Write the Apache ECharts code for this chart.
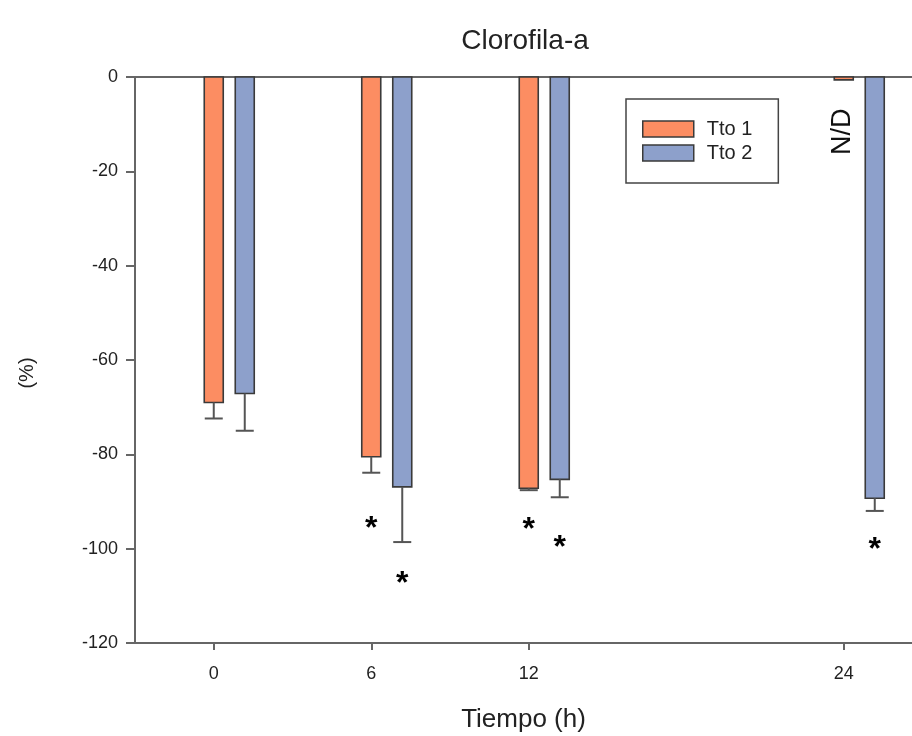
<!DOCTYPE html>
<html>
<head>
<meta charset="utf-8">
<script src="https://cdn.jsdelivr.net/npm/echarts@6/dist/echarts.min.js"></script>
<style>
  html, body { margin: 0; padding: 0; background: #fff; }
  #chart { width: 912px; height: 736px; }
</style>
</head>
<body>
<div id="chart"></div>
<script>
// tiempos (h) y valores
const tiempos = [0, 6, 12, 24];
const tickTiempos = [0, 6, 12, 24];
const tto1 = [-69.0, -80.5, -87.2, -0.6];
const tto1Err = [3.4, 3.4, 0.4, 0];
const tto1Star = [null, -94.1, -94.3, null];
const tto1Nota = ['', '', '', 'N/D'];
const tto2 = [-67.1, -86.9, -85.3, -89.3];
const tto2Err = [7.9, 11.7, 3.8, 2.7];
const tto2Star = [null, -105.9, -98.2, -98.7];
const tto2Nota = ['', '', '', ''];

const FONT = '"Liberation Sans", Arial, sans-serif';
const BAR_W = 19;
const CAP_W = 18;
const colores = { tto1: '#FC8D62', tto2: '#8DA0CB' };
const notas = [tto1Nota, tto2Nota];

function filas (vals, err, star) {
    return tiempos.map((t, i) => [t, vals[i], err[i], star[i] == null ? NaN : star[i]]);
}

/*
* barras con barra de error inferior, asterisco y nota
*/
function barRenderer (offset, color) {
    return function (params, api) {
        const t = api.value(0), v = api.value(1), e = api.value(2), s = api.value(3);
        const nota = notas[params.seriesIndex][params.dataIndex];
        const base = api.coord([t, 0]);
        const fin = api.coord([t, v]);
        const cx = base[0] + offset;
        const children = [{
            type: 'rect',
            shape: { x: cx - BAR_W / 2, y: base[1], width: BAR_W, height: fin[1] - base[1] },
            style: { fill: color, stroke: '#3a3a3a', lineWidth: 1.6 }
        }];
        if (e > 0) {
            const low = api.coord([t, v - e]);
            children.push({
                type: 'line',
                shape: { x1: cx, y1: fin[1], x2: cx, y2: low[1] },
                style: { stroke: '#555', lineWidth: 2 }
            }, {
                type: 'line',
                shape: { x1: cx - CAP_W / 2, y1: low[1], x2: cx + CAP_W / 2, y2: low[1] },
                style: { stroke: '#555', lineWidth: 2 }
            });
        }
        if (!isNaN(s)) {
            const p = api.coord([t, s]);
            children.push({
                type: 'text',
                x: cx, y: p[1] + 8,
                style: { text: '*', fontSize: 32, fontWeight: 'bold', fontFamily: FONT, fill: '#000', align: 'center', verticalAlign: 'middle' }
            });
        }
        if (nota) {
            children.push({
                type: 'text',
                x: cx - 1, y: fin[1] + 52,
                rotation: Math.PI / 2,
                style: { text: nota, fontSize: 27, fontFamily: FONT, fill: '#111', align: 'center', verticalAlign: 'middle' }
            });
        }
        return { type: 'group', children: children };
    };
}

const chart = echarts.init(document.getElementById('chart'));
chart.setOption({
    animation: false,
    backgroundColor: '#fff',
    textStyle: { fontFamily: FONT },
    title: {
        text: 'Clorofila-a',
        left: 520,
        top: 22,
        textAlign: 'center',
        textStyle: { fontSize: 28, fontWeight: 'normal', color: '#222', fontFamily: FONT }
    },
    legend: {
        left: 626,
        top: 99,
        orient: 'vertical',
        icon: 'rect',
        itemWidth: 51,
        itemHeight: 16,
        itemGap: 4,
        padding: [20, 26, 20, 16],
        borderColor: '#444',
        borderWidth: 1.5,
        borderRadius: 0,
        textStyle: { fontSize: 20, color: '#222', lineHeight: 20, padding: [0, 0, 0, 8] },
        data: [
            { name: 'Tto 1', itemStyle: { color: colores.tto1, borderColor: '#3a3a3a', borderWidth: 1.5 } },
            { name: 'Tto 2', itemStyle: { color: colores.tto2, borderColor: '#3a3a3a', borderWidth: 1.5 } }
        ]
    },
    grid: {
        left: 135, top: 77, right: 0, height: 566,
        outerBoundsMode: 'none'
    },
    xAxis: [
        {
            type: 'value',
            min: -3, max: 26.6,
            name: 'Tiempo (h)',
            nameLocation: 'middle',
            nameGap: 64,
            nameTextStyle: { fontSize: 26, color: '#222' },
            axisLine: { show: true, onZero: false, lineStyle: { color: '#666', width: 2 } },
            axisTick: { show: true, length: 7, lineStyle: { color: '#666', width: 2 }, customValues: tickTiempos },
            axisLabel: { fontSize: 18, color: '#222', margin: 22, customValues: tickTiempos },
            splitLine: { show: false }
        },
        {
            // línea superior del marco
            type: 'value',
            position: 'top',
            min: -3, max: 26.6,
            axisLine: { show: true, onZero: false, lineStyle: { color: '#666', width: 2 } },
            axisTick: { show: false },
            axisLabel: { show: false },
            splitLine: { show: false }
        }
    ],
    yAxis: {
        type: 'value',
        min: -120, max: 0, interval: 20,
        name: '(%)',
        nameLocation: 'middle',
        nameGap: 98,
        nameRotate: 90,
        nameTextStyle: { fontSize: 20, color: '#222', padding: [0, 0, 0, -26] },
        axisLine: { show: true, onZero: false, lineStyle: { color: '#666', width: 2 } },
        axisTick: { show: true, length: 9, lineStyle: { color: '#666', width: 2 } },
        axisLabel: { fontSize: 18, color: '#222', margin: 17 },
        splitLine: { show: false }
    },
    series: [
        {
            name: 'Tto 1',
            type: 'custom',
            itemStyle: { color: colores.tto1 },
            renderItem: barRenderer(0, colores.tto1),
            encode: { x: 0, y: 1 },
            data: filas(tto1, tto1Err, tto1Star)
        },
        {
            name: 'Tto 2',
            type: 'custom',
            itemStyle: { color: colores.tto2 },
            renderItem: barRenderer(31, colores.tto2),
            encode: { x: 0, y: 1 },
            data: filas(tto2, tto2Err, tto2Star)
        }
    ]
});
</script>
</body>
</html>
